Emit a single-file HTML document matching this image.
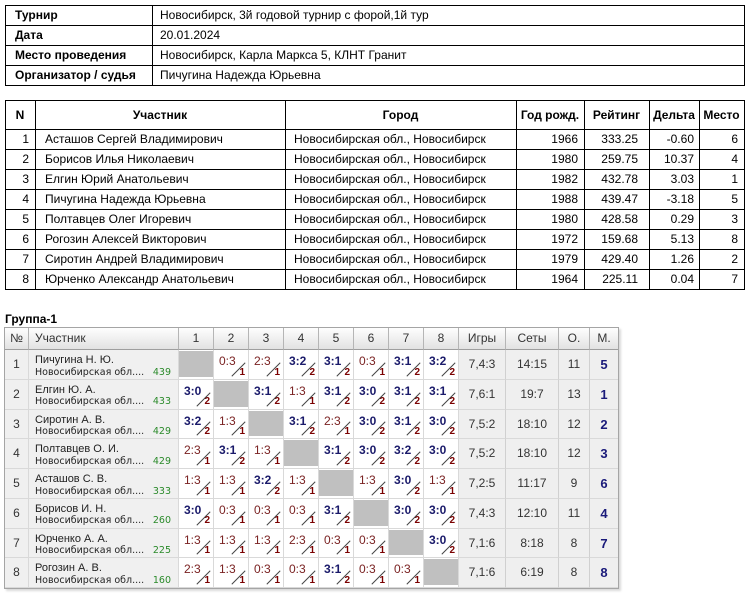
<!DOCTYPE html>
<html><head><meta charset="utf-8">
<style>
body{margin:0;width:750px;height:594px;position:relative;overflow:hidden;background:#fff;font-family:"Liberation Sans",Arial,sans-serif;color:#000;font-size:12px}
.t{position:absolute;white-space:nowrap}
.bx{position:absolute;box-sizing:border-box;border:1px solid #000}
.hl{position:absolute;height:1px;background:#000}
.vl{position:absolute;width:1px;background:#000}
.row{position:absolute;left:0;width:750px;height:19px}
.row .t{line-height:19px;top:0}
.c0{left:5px;width:24px;text-align:right}
.c1{left:45px}
.c2{left:294px}
.c3{left:516px;width:62px;text-align:right}
.c4{left:584px;width:54px;text-align:right}
.c5{left:649px;width:45px;text-align:right}
.c6{left:699px;width:39px;text-align:right}
.hd .t{text-align:center;font-weight:bold;line-height:28px;top:0}
.g{position:absolute;left:4px;top:327px;display:grid;grid-template-columns:24px 150px repeat(8,35px) 47px 53px 31px 28px;grid-template-rows:22px repeat(8,29.75px);border:1px solid #a5a5a5;box-shadow:2px 2px 2px rgba(0,0,0,.15);font-size:12px;color:#333}
.g>div{position:relative;box-sizing:border-box;border-right:1px solid #d9d9d9;border-bottom:1px solid #d9d9d9}
.g .h{background:linear-gradient(#fefefe,#e2e2e2);border-right:1px solid #b5b5b5;border-bottom:1px solid #9e9e9e;text-align:center;line-height:21px}
.g .h.lf{text-align:left;padding-left:6px}
.no{background:#f0f0f0;text-align:center;line-height:29px}
.nm{background:#f0f0f0}
.nm span{position:absolute;left:6px;top:3px;font-size:11px;line-height:14px;color:#222;white-space:nowrap}
.nm em{position:absolute;left:6px;top:17.5px;font:9.5px/10px "DejaVu Sans",sans-serif;color:#222;font-style:normal;white-space:nowrap}
.nm u{position:absolute;right:7px;top:17.5px;font:9.5px/10px "DejaVu Sans",sans-serif;color:#2a8a2a;text-decoration:none}
.w,.l,.x{background:#fff}
.w b,.l b{position:absolute;left:5px;top:5px;font-size:12px;line-height:12px;white-space:nowrap}
.w b{color:#1a1a6a}
.l b{font-weight:normal;color:#7a2222}
.w i,.l i{position:absolute;right:3px;top:17.5px;font:bold 10px/10px "Liberation Sans",sans-serif;color:#7a0000;font-style:normal}
.w::after,.l::after{content:"";position:absolute;left:23.75px;top:9.75px;width:1px;height:19px;background:#444;transform:rotate(45deg)}
.x::before{content:"";position:absolute;left:0;top:1px;right:0;bottom:2px;background:#c0c0c0}
.st{background:#efefef;text-align:center;line-height:29px;border-right-color:#d0d0d0 !important}
.m{font-weight:bold;color:#1a1a7a;font-size:13px;border-right:none !important}
</style></head><body>

<div class="bx" style="left:5px;top:5px;width:740px;height:81px"></div>
<div class="hl" style="left:5px;top:25px;width:740px"></div>
<div class="hl" style="left:5px;top:45px;width:740px"></div>
<div class="hl" style="left:5px;top:65px;width:740px"></div>
<div class="vl" style="left:152px;top:5px;height:81px"></div>
<div class="t" style="left:15px;top:6px;line-height:19px;font-weight:bold">Турнир</div>
<div class="t" style="left:160px;top:6px;line-height:19px">Новосибирск, 3й годовой турнир с форой,1й тур</div>
<div class="t" style="left:15px;top:26px;line-height:19px;font-weight:bold">Дата</div>
<div class="t" style="left:160px;top:26px;line-height:19px">20.01.2024</div>
<div class="t" style="left:15px;top:46px;line-height:19px;font-weight:bold">Место проведения</div>
<div class="t" style="left:160px;top:46px;line-height:19px">Новосибирск, Карла Маркса 5, КЛНТ Гранит</div>
<div class="t" style="left:15px;top:66px;line-height:19px;font-weight:bold">Организатор / судья</div>
<div class="t" style="left:160px;top:66px;line-height:19px">Пичугина Надежда Юрьевна</div>

<div class="bx" style="left:5px;top:100px;width:740px;height:190px"></div>
<div class="hl" style="left:5px;top:129px;width:740px"></div>
<div class="hl" style="left:5px;top:149px;width:740px"></div>
<div class="hl" style="left:5px;top:169px;width:740px"></div>
<div class="hl" style="left:5px;top:189px;width:740px"></div>
<div class="hl" style="left:5px;top:209px;width:740px"></div>
<div class="hl" style="left:5px;top:229px;width:740px"></div>
<div class="hl" style="left:5px;top:249px;width:740px"></div>
<div class="hl" style="left:5px;top:269px;width:740px"></div>
<div class="vl" style="left:35px;top:100px;height:190px"></div>
<div class="vl" style="left:285px;top:100px;height:190px"></div>
<div class="vl" style="left:516px;top:100px;height:190px"></div>
<div class="vl" style="left:584px;top:100px;height:190px"></div>
<div class="vl" style="left:649px;top:100px;height:190px"></div>
<div class="vl" style="left:699px;top:100px;height:190px"></div>

<div class="row hd" style="top:101px;height:28px">
<div class="t" style="left:5px;width:30px">N</div>
<div class="t" style="left:35px;width:250px">Участник</div>
<div class="t" style="left:285px;width:231px">Город</div>
<div class="t" style="left:516px;width:68px">Год рожд.</div>
<div class="t" style="left:584px;width:65px">Рейтинг</div>
<div class="t" style="left:649px;width:50px">Дельта</div>
<div class="t" style="left:699px;width:45px">Место</div>
</div>

<div class="row" style="top:130px"><div class="t c0">1</div><div class="t c1">Асташов Сергей Владимирович</div><div class="t c2">Новосибирская обл., Новосибирск</div><div class="t c3">1966</div><div class="t c4">333.25</div><div class="t c5">-0.60</div><div class="t c6">6</div></div>
<div class="row" style="top:150px"><div class="t c0">2</div><div class="t c1">Борисов Илья Николаевич</div><div class="t c2">Новосибирская обл., Новосибирск</div><div class="t c3">1980</div><div class="t c4">259.75</div><div class="t c5">10.37</div><div class="t c6">4</div></div>
<div class="row" style="top:170px"><div class="t c0">3</div><div class="t c1">Елгин Юрий Анатольевич</div><div class="t c2">Новосибирская обл., Новосибирск</div><div class="t c3">1982</div><div class="t c4">432.78</div><div class="t c5">3.03</div><div class="t c6">1</div></div>
<div class="row" style="top:190px"><div class="t c0">4</div><div class="t c1">Пичугина Надежда Юрьевна</div><div class="t c2">Новосибирская обл., Новосибирск</div><div class="t c3">1988</div><div class="t c4">439.47</div><div class="t c5">-3.18</div><div class="t c6">5</div></div>
<div class="row" style="top:210px"><div class="t c0">5</div><div class="t c1">Полтавцев Олег Игоревич</div><div class="t c2">Новосибирская обл., Новосибирск</div><div class="t c3">1980</div><div class="t c4">428.58</div><div class="t c5">0.29</div><div class="t c6">3</div></div>
<div class="row" style="top:230px"><div class="t c0">6</div><div class="t c1">Рогозин Алексей Викторович</div><div class="t c2">Новосибирская обл., Новосибирск</div><div class="t c3">1972</div><div class="t c4">159.68</div><div class="t c5">5.13</div><div class="t c6">8</div></div>
<div class="row" style="top:250px"><div class="t c0">7</div><div class="t c1">Сиротин Андрей Владимирович</div><div class="t c2">Новосибирская обл., Новосибирск</div><div class="t c3">1979</div><div class="t c4">429.40</div><div class="t c5">1.26</div><div class="t c6">2</div></div>
<div class="row" style="top:270px"><div class="t c0">8</div><div class="t c1">Юрченко Александр Анатольевич</div><div class="t c2">Новосибирская обл., Новосибирск</div><div class="t c3">1964</div><div class="t c4">225.11</div><div class="t c5">0.04</div><div class="t c6">7</div></div>

<div class="t" style="left:5px;top:313px;line-height:12px;font-weight:bold">Группа-1</div>

<div class="g">
<div class="h">№</div><div class="h lf">Участник</div><div class="h">1</div><div class="h">2</div><div class="h">3</div><div class="h">4</div><div class="h">5</div><div class="h">6</div><div class="h">7</div><div class="h">8</div><div class="h">Игры</div><div class="h">Сеты</div><div class="h">О.</div><div class="h" style="border-right:none">М.</div>

<div class="no">1</div><div class="nm"><span>Пичугина Н. Ю.</span><em>Новосибирская обл....</em><u>439</u></div>
<div class="x"></div><div class="l"><b>0:3</b><i>1</i></div><div class="l"><b>2:3</b><i>1</i></div><div class="w"><b>3:2</b><i>2</i></div><div class="w"><b>3:1</b><i>2</i></div><div class="l"><b>0:3</b><i>1</i></div><div class="w"><b>3:1</b><i>2</i></div><div class="w"><b>3:2</b><i>2</i></div>
<div class="st">7,4:3</div><div class="st">14:15</div><div class="st">11</div><div class="st m">5</div>

<div class="no">2</div><div class="nm"><span>Елгин Ю. А.</span><em>Новосибирская обл....</em><u>433</u></div>
<div class="w"><b>3:0</b><i>2</i></div><div class="x"></div><div class="w"><b>3:1</b><i>2</i></div><div class="l"><b>1:3</b><i>1</i></div><div class="w"><b>3:1</b><i>2</i></div><div class="w"><b>3:0</b><i>2</i></div><div class="w"><b>3:1</b><i>2</i></div><div class="w"><b>3:1</b><i>2</i></div>
<div class="st">7,6:1</div><div class="st">19:7</div><div class="st">13</div><div class="st m">1</div>

<div class="no">3</div><div class="nm"><span>Сиротин А. В.</span><em>Новосибирская обл....</em><u>429</u></div>
<div class="w"><b>3:2</b><i>2</i></div><div class="l"><b>1:3</b><i>1</i></div><div class="x"></div><div class="w"><b>3:1</b><i>2</i></div><div class="l"><b>2:3</b><i>1</i></div><div class="w"><b>3:0</b><i>2</i></div><div class="w"><b>3:1</b><i>2</i></div><div class="w"><b>3:0</b><i>2</i></div>
<div class="st">7,5:2</div><div class="st">18:10</div><div class="st">12</div><div class="st m">2</div>

<div class="no">4</div><div class="nm"><span>Полтавцев О. И.</span><em>Новосибирская обл....</em><u>429</u></div>
<div class="l"><b>2:3</b><i>1</i></div><div class="w"><b>3:1</b><i>2</i></div><div class="l"><b>1:3</b><i>1</i></div><div class="x"></div><div class="w"><b>3:1</b><i>2</i></div><div class="w"><b>3:0</b><i>2</i></div><div class="w"><b>3:2</b><i>2</i></div><div class="w"><b>3:0</b><i>2</i></div>
<div class="st">7,5:2</div><div class="st">18:10</div><div class="st">12</div><div class="st m">3</div>

<div class="no">5</div><div class="nm"><span>Асташов С. В.</span><em>Новосибирская обл....</em><u>333</u></div>
<div class="l"><b>1:3</b><i>1</i></div><div class="l"><b>1:3</b><i>1</i></div><div class="w"><b>3:2</b><i>2</i></div><div class="l"><b>1:3</b><i>1</i></div><div class="x"></div><div class="l"><b>1:3</b><i>1</i></div><div class="w"><b>3:0</b><i>2</i></div><div class="l"><b>1:3</b><i>1</i></div>
<div class="st">7,2:5</div><div class="st">11:17</div><div class="st">9</div><div class="st m">6</div>

<div class="no">6</div><div class="nm"><span>Борисов И. Н.</span><em>Новосибирская обл....</em><u>260</u></div>
<div class="w"><b>3:0</b><i>2</i></div><div class="l"><b>0:3</b><i>1</i></div><div class="l"><b>0:3</b><i>1</i></div><div class="l"><b>0:3</b><i>1</i></div><div class="w"><b>3:1</b><i>2</i></div><div class="x"></div><div class="w"><b>3:0</b><i>2</i></div><div class="w"><b>3:0</b><i>2</i></div>
<div class="st">7,4:3</div><div class="st">12:10</div><div class="st">11</div><div class="st m">4</div>

<div class="no">7</div><div class="nm"><span>Юрченко А. А.</span><em>Новосибирская обл....</em><u>225</u></div>
<div class="l"><b>1:3</b><i>1</i></div><div class="l"><b>1:3</b><i>1</i></div><div class="l"><b>1:3</b><i>1</i></div><div class="l"><b>2:3</b><i>1</i></div><div class="l"><b>0:3</b><i>1</i></div><div class="l"><b>0:3</b><i>1</i></div><div class="x"></div><div class="w"><b>3:0</b><i>2</i></div>
<div class="st">7,1:6</div><div class="st">8:18</div><div class="st">8</div><div class="st m">7</div>

<div class="no">8</div><div class="nm"><span>Рогозин А. В.</span><em>Новосибирская обл....</em><u>160</u></div>
<div class="l"><b>2:3</b><i>1</i></div><div class="l"><b>1:3</b><i>1</i></div><div class="l"><b>0:3</b><i>1</i></div><div class="l"><b>0:3</b><i>1</i></div><div class="w"><b>3:1</b><i>2</i></div><div class="l"><b>0:3</b><i>1</i></div><div class="l"><b>0:3</b><i>1</i></div><div class="x"></div>
<div class="st">7,1:6</div><div class="st">6:19</div><div class="st">8</div><div class="st m">8</div>
</div>

</body></html>
